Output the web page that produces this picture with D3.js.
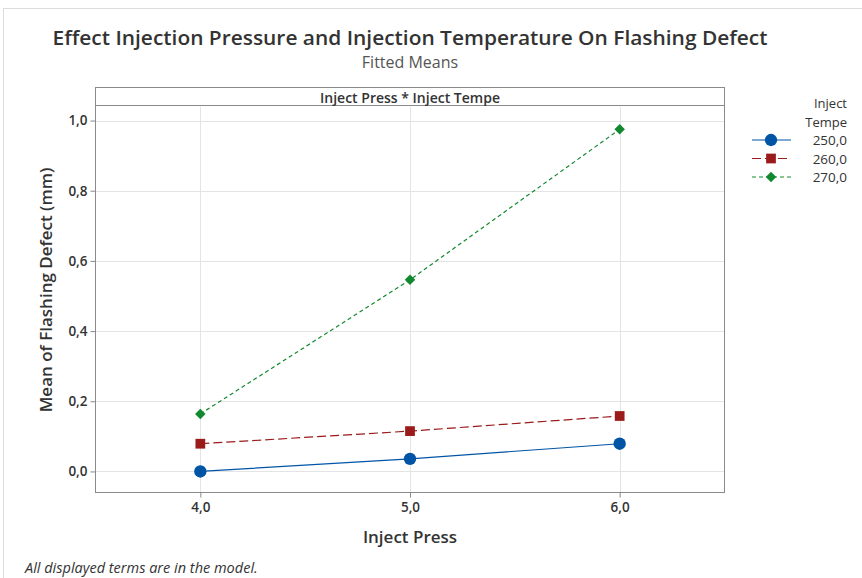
<!DOCTYPE html>
<html><head><meta charset="utf-8">
<script src="https://cdn.jsdelivr.net/npm/d3@7"></script>
<style>body{margin:0;background:#fff;}svg{display:block;}</style>
</head><body>
<script>
const pressures = [4.0, 5.0, 6.0];
const tempLabels = ["250,0", "260,0", "270,0"];
const vals250 = [0.000, 0.036, 0.079];
const vals260 = [0.079, 0.115, 0.158];
const vals270 = [0.164, 0.546, 0.975];
const yTicks = [0, 0.2, 0.4, 0.6, 0.8, 1.0];
const xTicks = [4, 5, 6];

const series = [
  {name: tempLabels[0], values: vals250, color: "#0054a6", dash: null, sym: d3.symbolCircle, size: 120, rot: 0},
  {name: tempLabels[1], values: vals260, color: "#9b1a1a", dash: "9,4", sym: d3.symbolSquare, size: 95, rot: 0},
  {name: tempLabels[2], values: vals270, color: "#12892e", dash: "4,3", sym: d3.symbolSquare, size: 55, rot: 45}
];

const W = 862, H = 578;
const font = "'Open Sans', 'Noto Sans', sans-serif";
const svg = d3.select("body").append("svg").attr("width", W).attr("height", H)
  .style("font-family", font);

// outer light border
svg.append("rect").attr("x", 3.5).attr("y", 8.5).attr("width", W).attr("height", H)
  .attr("fill", "none").attr("stroke", "#dcdcdc");

const L = 95.5, R = 724.5, T = 106.5, B = 492.5, stripTop = 87.5;
const x = d3.scaleLinear().domain([3.5, 6.5]).range([L, R]);
const y = d3.scaleLinear().domain([-0.06, 1.04]).range([B, T]);
const fmt = v => d3.format(".1f")(v).replace(".", ",");

// gridlines
svg.append("g").selectAll("line").data(yTicks).join("line")
  .attr("x1", L).attr("x2", R).attr("y1", d => Math.round(y(d)) + 0.5).attr("y2", d => Math.round(y(d)) + 0.5)
  .attr("stroke", "#e4e4e4");
svg.append("g").selectAll("line").data(xTicks).join("line")
  .attr("y1", T).attr("y2", B).attr("x1", d => Math.round(x(d)) + 0.5).attr("x2", d => Math.round(x(d)) + 0.5)
  .attr("stroke", "#e4e4e4");

// axes
const yAxis = svg.append("g").attr("transform", `translate(${L},0)`)
  .call(d3.axisLeft(y).tickValues(yTicks).tickFormat(fmt).tickSize(5).tickSizeOuter(0));
const xAxis = svg.append("g").attr("transform", `translate(0,${B})`)
  .call(d3.axisBottom(x).tickValues(xTicks).tickFormat(fmt).tickSize(5).tickSizeOuter(0));
[yAxis, xAxis].forEach(a => {
  a.select(".domain").remove();
  a.selectAll(".tick line").attr("stroke", "#888");
  a.selectAll(".tick text").attr("fill", "#333").style("font-size", "13.5px").style("font-weight", "600")
   .style("font-family", font);
});
yAxis.selectAll(".tick text").attr("x", -8);
xAxis.selectAll(".tick text").attr("y", 10);

// frame
svg.append("rect").attr("x", L).attr("y", stripTop).attr("width", R - L).attr("height", B - stripTop)
  .attr("fill", "none").attr("stroke", "#8a8a8a");
svg.append("line").attr("x1", L).attr("x2", R).attr("y1", T - 1).attr("y2", T - 1).attr("stroke", "#8a8a8a");
svg.append("text").attr("x", (L + R) / 2).attr("y", 102.5).attr("text-anchor", "middle")
  .attr("fill", "#333").style("font-size", "14px").style("font-weight", "600").text("Inject Press * Inject Tempe");

// lines & markers
const line = d3.line().x((d, i) => x(pressures[i])).y(d => y(d));
series.forEach(s => {
  svg.append("path").datum(s.values).attr("d", line).attr("fill", "none")
    .attr("stroke", s.color).attr("stroke-width", 1.2).attr("stroke-dasharray", s.dash);
  svg.append("g").selectAll("path").data(s.values).join("path")
    .attr("d", d3.symbol().type(s.sym).size(s.size))
    .attr("transform", (d, i) => `translate(${x(pressures[i])},${y(d)}) rotate(${s.rot})`)
    .attr("fill", s.color);
});

// titles
svg.append("text").attr("x", 410).attr("y", 45).attr("text-anchor", "middle").attr("fill", "#333")
  .style("font-size", "20.5px").style("font-weight", "600").attr("textLength", 715).attr("lengthAdjust", "spacingAndGlyphs")
  .text("Effect Injection Pressure and Injection Temperature On Flashing Defect");
svg.append("text").attr("x", 410).attr("y", 68).attr("text-anchor", "middle").attr("fill", "#555")
  .style("font-size", "16px").text("Fitted Means");
svg.append("text").attr("x", 410).attr("y", 543).attr("text-anchor", "middle").attr("fill", "#333")
  .style("font-size", "17px").style("font-weight", "600").text("Inject Press");
svg.append("text").attr("transform", "translate(52,290) rotate(-90)").attr("text-anchor", "middle")
  .attr("fill", "#333").style("font-size", "17px").style("font-weight", "600").text("Mean of Flashing Defect (mm)");
svg.append("text").attr("x", 25).attr("y", 573).attr("fill", "#333").style("font-size", "14.5px")
  .style("font-style", "italic").text("All displayed terms are in the model.");

// legend
const lg = svg.append("g");
lg.append("text").attr("x", 847).attr("y", 108).attr("text-anchor", "end").attr("fill", "#333")
  .style("font-size", "13px").style("font-weight", "500").text("Inject");
lg.append("text").attr("x", 847).attr("y", 127).attr("text-anchor", "end").attr("fill", "#333")
  .style("font-size", "13px").style("font-weight", "500").text("Tempe");
series.forEach((s, i) => {
  const yy = 140 + i * 18.5;
  lg.append("line").attr("x1", 752).attr("x2", 791).attr("y1", yy).attr("y2", yy)
    .attr("stroke", s.color).attr("stroke-width", 1.2).attr("stroke-dasharray", s.dash);
  lg.append("path").attr("d", d3.symbol().type(s.sym).size(s.size)).attr("transform", `translate(771,${yy}) rotate(${s.rot})`)
    .attr("fill", s.color);
  lg.append("text").attr("x", 847).attr("y", yy + 5).attr("text-anchor", "end").attr("fill", "#333")
    .style("font-size", "13.5px").text(s.name);
});
</script>
</body></html>
